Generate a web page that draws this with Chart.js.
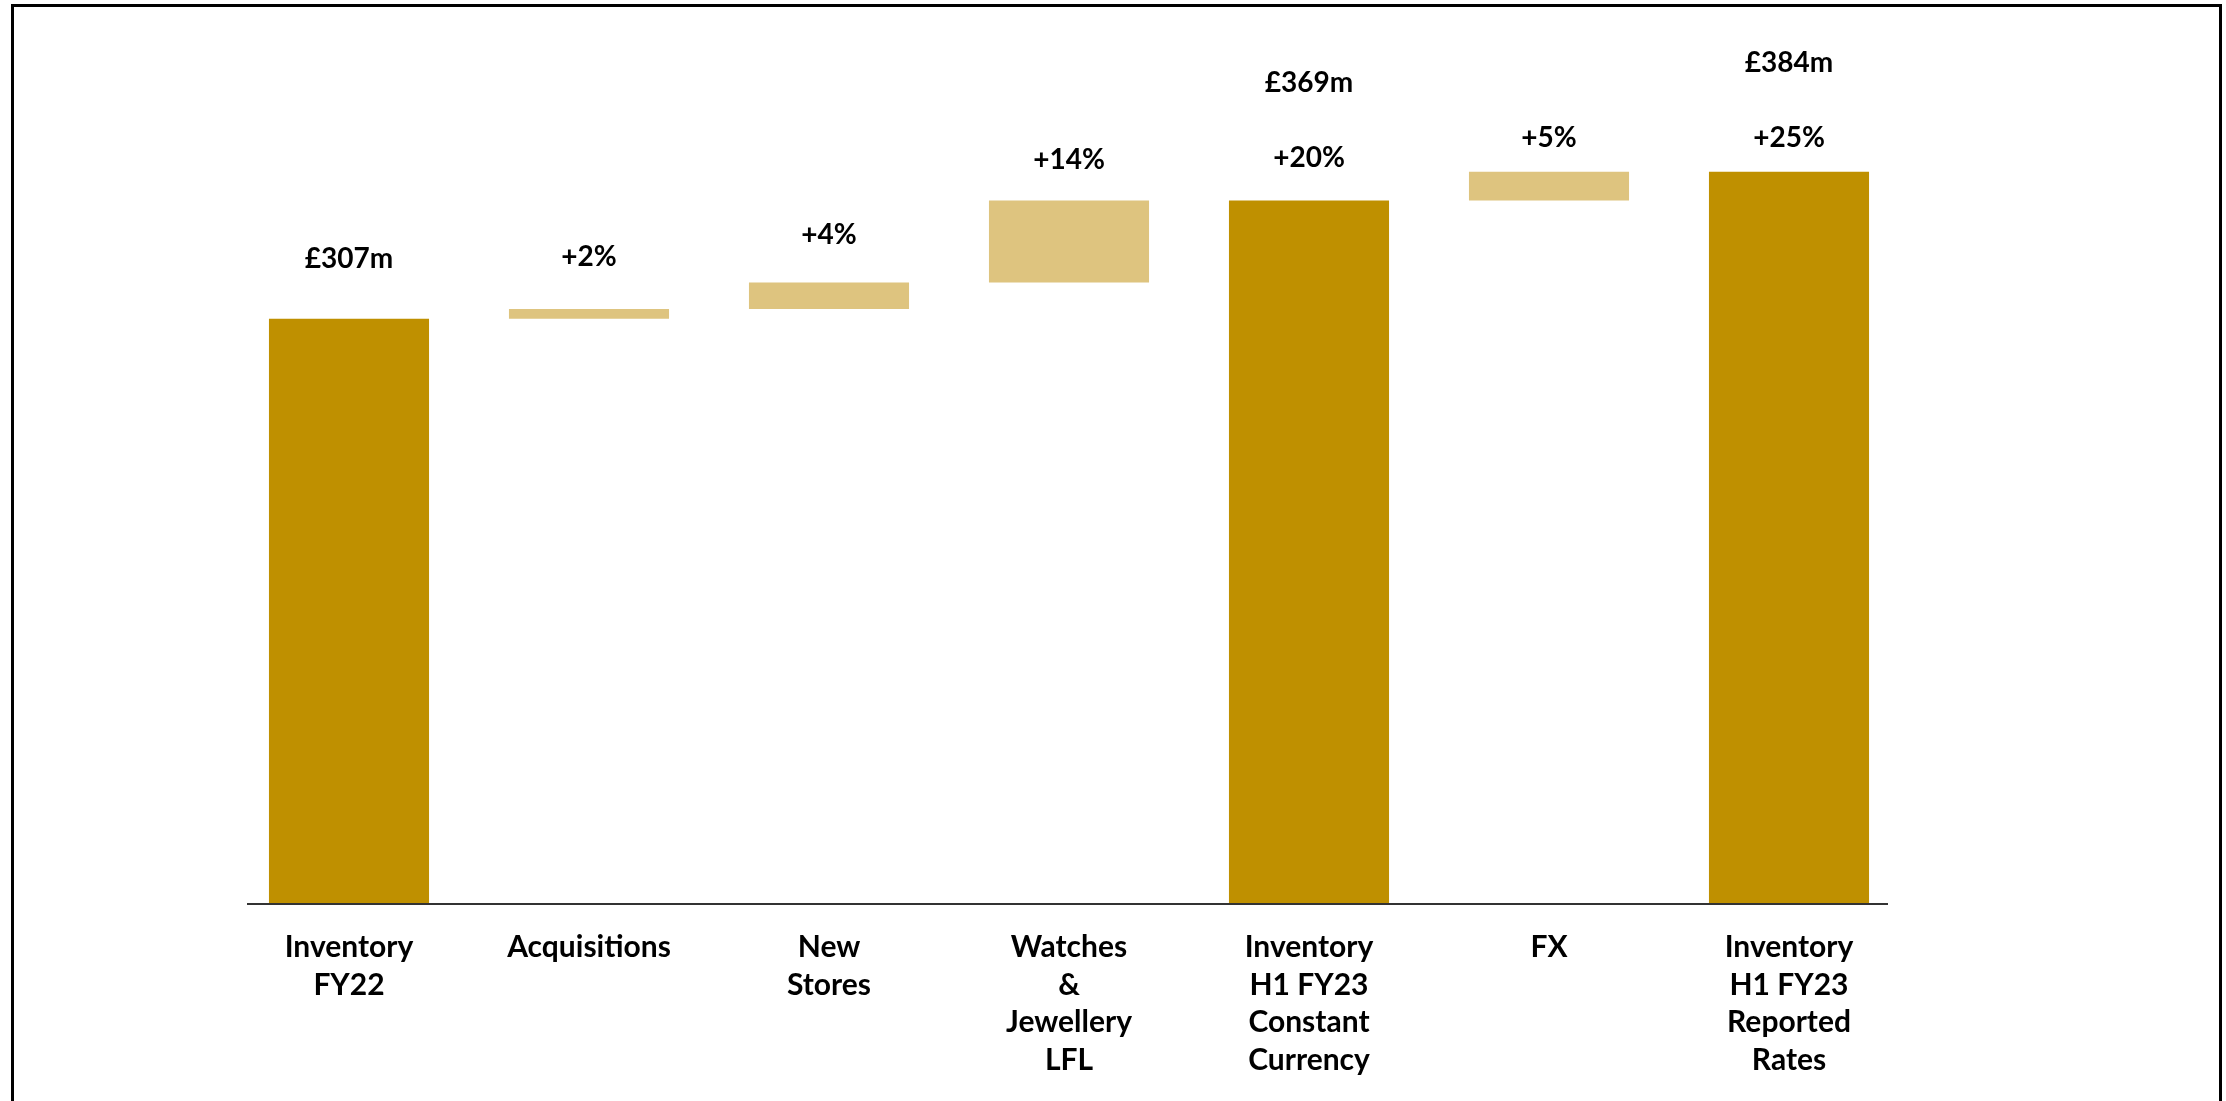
<!DOCTYPE html>
<html>
<head>
<meta charset="utf-8">
<title>Inventory bridge</title>
<script src="https://cdn.jsdelivr.net/npm/chart.js@4.4.1/dist/chart.umd.min.js"></script>
<style>
    html, body { margin: 0; padding: 0; background: #fff; }
    canvas { display: block; }
</style>
</head>
<body>
<canvas id="bridgeChart" width="2226" height="1101"></canvas>
<script>
// Categories of the bridge (multi-line labels)
const categories = [
    ['Inventory', 'FY22'],
    ['Acquisitions'],
    ['New', 'Stores'],
    ['Watches', '&', 'Jewellery', 'LFL'],
    ['Inventory', 'H1 FY23', 'Constant', 'Currency'],
    ['FX'],
    ['Inventory', 'H1 FY23', 'Reported', 'Rates']
];
// Inventory totals in £m (null = movement step)
const totals = [307, null, null, null, 369, null, 384];
// Movements in £m (null = total column)
const changes = [null, 5, 14, 43, null, 15, null];
const totalLabels = ['£307m', null, null, null, '£369m', null, '£384m'];
const changeLabels = [null, '+2%', '+4%', '+14%', '+20%', '+5%', '+25%'];

const totalColor = '#BF9000';
const changeColor = '#DEC47F';
const labelFont = 'bold 28px Lato';
// distance from top of bar to the label centre
const labelGap = [60, 52, 47, 40, 42, 34, 34];
const totalLabelStep = 75;

// Build floating bars from the running total
let running = 0;
const barData = categories.map((c, i) => {
    if (totals[i] !== null) {
        running = totals[i];
        return [0, totals[i]];
    }
    const start = running;
    running += changes[i];
    return [start, running];
});
const barColors = categories.map((c, i) => totals[i] !== null ? totalColor : changeColor);

// Frame, baseline and value labels
const decorations = {
    id: 'decorations',
    beforeDraw(chart) {
        const ctx = chart.ctx;
        ctx.save();
        ctx.strokeStyle = '#000';
        ctx.lineWidth = 3;
        ctx.strokeRect(12.5, 5.5, 2208, 1200);
        ctx.restore();
    },
    afterDatasetsDraw(chart) {
        const ctx = chart.ctx;
        const area = chart.chartArea;
        const y0 = chart.scales.y.getPixelForValue(0);
        ctx.save();
        ctx.strokeStyle = '#333';
        ctx.lineWidth = 2;
        ctx.beginPath();
        ctx.moveTo(area.left + 18, y0);
        ctx.lineTo(area.right - 21, y0);
        ctx.stroke();

        ctx.fillStyle = '#000';
        ctx.font = labelFont;
        ctx.textAlign = 'center';
        ctx.textBaseline = 'middle';
        const meta = chart.getDatasetMeta(0);
        meta.data.forEach((bar, i) => {
            const top = Math.min(bar.y, bar.base);
            let y = top - labelGap[i];
            if (changeLabels[i]) {
                ctx.fillText(changeLabels[i], bar.x, y);
                y -= totalLabelStep;
            }
            if (totalLabels[i]) {
                ctx.fillText(totalLabels[i], bar.x, y);
            }
        });
        ctx.restore();
    }
};

const chart = new Chart(document.getElementById('bridgeChart'), {
    type: 'bar',
    data: {
        labels: categories,
        datasets: [{
            data: barData,
            backgroundColor: barColors,
            borderWidth: 0,
            borderSkipped: false,
            barPercentage: 0.667,
            categoryPercentage: 1
        }]
    },
    options: {
        responsive: false,
        animation: false,
        devicePixelRatio: 1,
        layout: {
            padding: { left: 229, right: 317, top: 46, bottom: 0 }
        },
        plugins: {
            legend: { display: false },
            tooltip: { enabled: false }
        },
        scales: {
            x: {
                grid: { display: false },
                border: { display: false },
                ticks: {
                    color: '#000',
                    font: { family: 'Lato', weight: 'bold', size: 30, lineHeight: 1.25 },
                    padding: 17,
                    maxRotation: 0,
                    autoSkip: false
                },
                // fixed axis band so the baseline sits at y = 904
                afterFit(scale) {
                    scale.height = 197;
                }
            },
            y: {
                display: false,
                min: 0,
                max: 450
            }
        }
    },
    plugins: [decorations]
});
</script>
</body>
</html>
